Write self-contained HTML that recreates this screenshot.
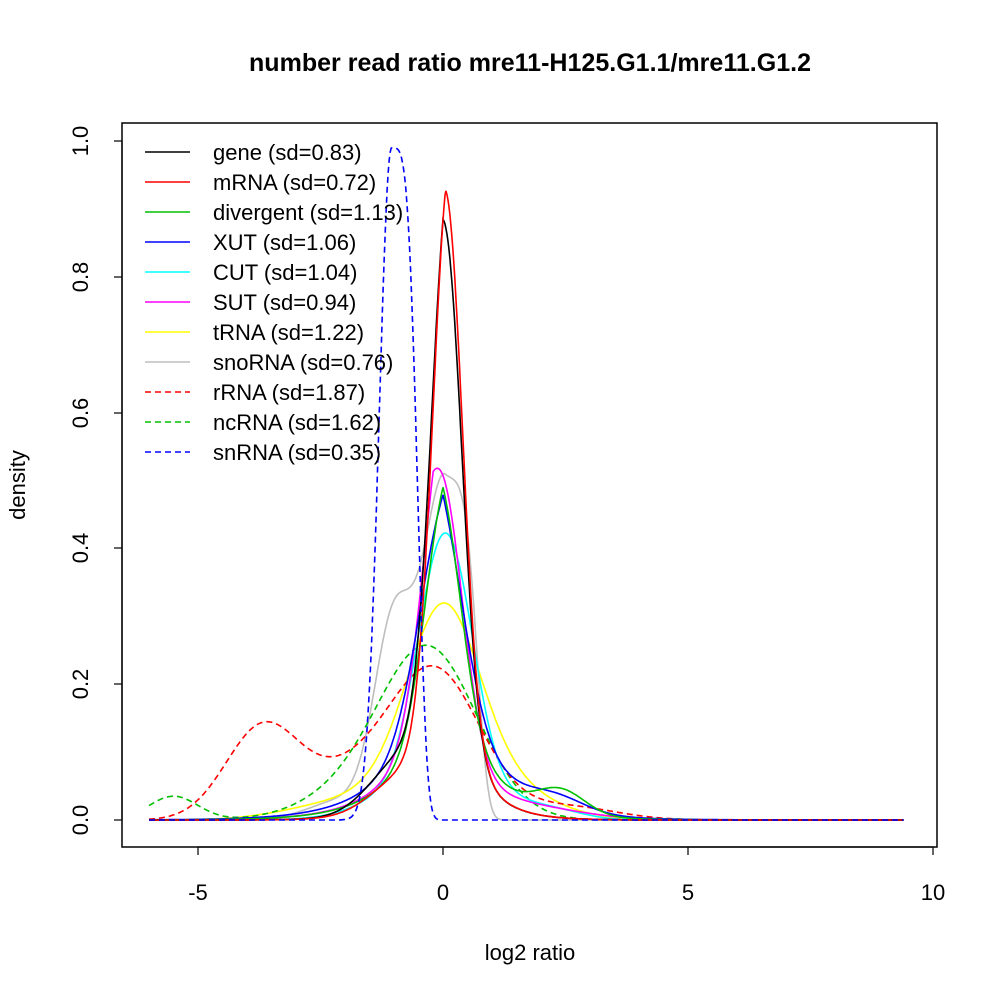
<!DOCTYPE html>
<html><head><meta charset="utf-8"><style>
body{margin:0;background:#fff;}
svg{display:block;font-family:"Liberation Sans",sans-serif;}
</style></head><body>
<svg id="s" width="1000" height="1000" viewBox="0 0 1000 1000">
<rect width="1000" height="1000" fill="#fff"/>
<text x="530" y="71" font-size="25" font-weight="bold" text-anchor="middle" textLength="562" lengthAdjust="spacingAndGlyphs">number read ratio mre11-H125.G1.1/mre11.G1.2</text>
<rect x="122" y="123" width="815" height="724" fill="none" stroke="#000" stroke-width="1.5"/>
<g stroke="#000" stroke-width="1.2">
<line x1="198" y1="847" x2="933" y2="847"/>
<line x1="198" y1="847" x2="198" y2="855"/><line x1="443" y1="847" x2="443" y2="855"/>
<line x1="688" y1="847" x2="688" y2="855"/><line x1="933" y1="847" x2="933" y2="855"/>
<line x1="122" y1="141" x2="122" y2="820"/>
<line x1="122" y1="820" x2="114" y2="820"/><line x1="122" y1="684" x2="114" y2="684"/>
<line x1="122" y1="548" x2="114" y2="548"/><line x1="122" y1="413" x2="114" y2="413"/>
<line x1="122" y1="277" x2="114" y2="277"/><line x1="122" y1="141" x2="114" y2="141"/>
</g>
<g font-size="22" text-anchor="middle">
<text x="198" y="900">-5</text><text x="443" y="900">0</text><text x="688" y="900">5</text><text x="933" y="900">10</text>
<text transform="translate(88,820) rotate(-90)">0.0</text>
<text transform="translate(88,684) rotate(-90)">0.2</text>
<text transform="translate(88,548) rotate(-90)">0.4</text>
<text transform="translate(88,413) rotate(-90)">0.6</text>
<text transform="translate(88,277) rotate(-90)">0.8</text>
<text transform="translate(88,141) rotate(-90)">1.0</text>
<text x="530" y="960">log2 ratio</text>
<text transform="translate(25,485) rotate(-90)">density</text>
</g>
<g id="curves" fill="none" stroke-width="1.6"></g>
<g id="leg" font-size="22"></g>
</svg>
<script>
var S=[
["gray","#bebebe",0,[["A",0.5,0.05,0.45,0.7],["G",0.28,-1.0,0.4],["G",0.03,-2,0.7]]],
["tRNA","#ffff00",0,[["G",0.22,0,0.7],["G",0.1,0.2,1.3],["G",0.015,-2.5,1]]],
["ncRNA","#00c000",1,[["G",0.25,-0.3,1.0],["G",0.035,-5.5,0.5],["G",0.03,-2,1]]],
["rRNA","#ff0000",1,[["G",0.2,-0.1,0.9],["G",0.13,-3.7,0.75],["G",0.07,-1.7,1.1],["G",0.02,2.5,1]]],
["CUT","#00ffff",0,[["G",0.2,-0.2,0.45],["G",0.2,0.3,0.45],["G",0.08,0,1.1],["G",0.01,2.3,0.6]]],
["SUT","#ff00ff",0,[["G",0.35,0,0.42],["L",0.2,-0.2,0.8],["G",0.01,2,1]]],
["XUT","#0000ff",0,[["G",0.22,-0.05,0.5],["L",0.26,0,0.9],["G",0.02,2.3,0.6]]],
["div","#00c000",0,[["G",0.25,0,0.4],["L",0.24,0,0.8],["G",0.035,2.4,0.5]]],
["gene","#000000",0,[["G",0.62,0.08,0.33],["L",0.27,0,0.55],["G",0.05,-1,0.6]]],
["mRNA","#ff0000",0,[["G",0.68,0.1,0.32],["L",0.25,0.05,0.55],["G",0.03,-1,0.6]]],
["snRNA","#0000ff",1,[["A",0.99,-1.05,0.25,0.58]]]
];
function f(b,x){var d=x-b[2];if(b[0]=="G")return b[1]*Math.exp(-d*d/(2*b[3]*b[3]));
if(b[0]=="L")return b[1]*Math.exp(-Math.abs(d)/b[3]);
if(d<0)return b[1]*Math.exp(-d*d/(2*b[3]*b[3]));var r=d/b[4];return b[1]*Math.exp(-r*r*r*r);}
var g=document.getElementById('curves'),ns="http://www.w3.org/2000/svg";
S.forEach(function(c){var d="";for(var x=-6;x<=9.4;x+=0.02){var y=0;c[3].forEach(function(b){y+=f(b,x);});
d+=(d?"L":"M")+(443+49*x).toFixed(1)+","+(820-679*y).toFixed(1);}
var p=document.createElementNS(ns,"path");p.setAttribute("d",d);p.setAttribute("stroke",c[1]);if(c[2])p.setAttribute("stroke-dasharray","6,4");g.appendChild(p);});
var L=[["gene (sd=0.83)","#000",0],["mRNA (sd=0.72)","#f00",0],["divergent (sd=1.13)","#00c000",0],["XUT (sd=1.06)","#00f",0],["CUT (sd=1.04)","#0ff",0],["SUT (sd=0.94)","#f0f",0],["tRNA (sd=1.22)","#ff0",0],["snoRNA (sd=0.76)","#bebebe",0],["rRNA (sd=1.87)","#f00",1],["ncRNA (sd=1.62)","#00c000",1],["snRNA (sd=0.35)","#00f",1]];
var lg=document.getElementById('leg');
L.forEach(function(l,i){var y=152+30*i;var ln=document.createElementNS(ns,"line");ln.setAttribute("x1",145);ln.setAttribute("x2",190);ln.setAttribute("y1",y);ln.setAttribute("y2",y);ln.setAttribute("stroke",l[1]);ln.setAttribute("stroke-width",1.6);if(l[2])ln.setAttribute("stroke-dasharray","6,4");lg.appendChild(ln);
var t=document.createElementNS(ns,"text");t.setAttribute("x",213);t.setAttribute("y",y+8);t.textContent=l[0];lg.appendChild(t);});
</script>
</body></html>
